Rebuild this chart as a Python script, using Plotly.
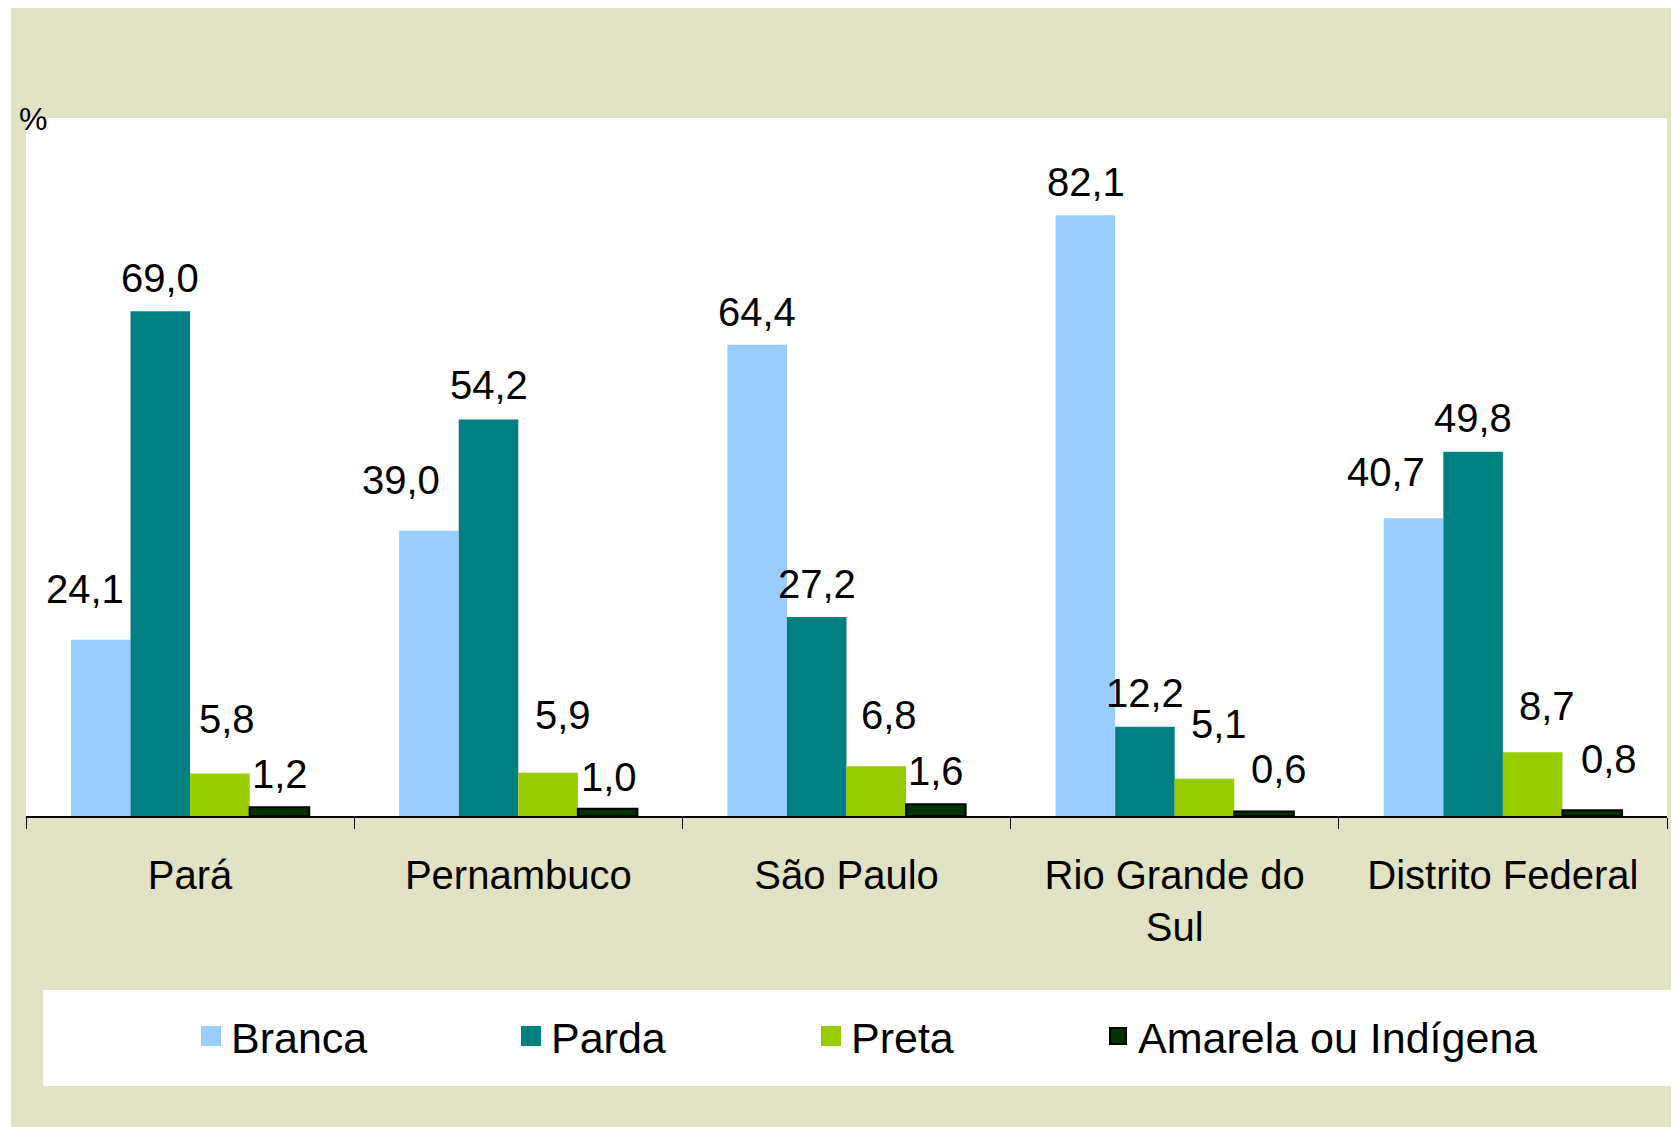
import plotly.graph_objects as go

# ---- data ----
categories = ["Pará", "Pernambuco", "São Paulo", "Rio Grande do<br>Sul", "Distrito Federal"]
series_names = ["Branca", "Parda", "Preta", "Amarela ou Indígena"]
branca = [24.1, 39.0, 64.4, 82.1, 40.7]
parda = [69.0, 54.2, 27.2, 12.2, 49.8]
preta = [5.8, 5.9, 6.8, 5.1, 8.7]
amarela = [1.2, 1.0, 1.6, 0.6, 0.8]

# ---- styling ----
colors = ["#99CCFF", "#008080", "#99CC00", "#003300"]
outline = [None, None, None, "#000000"]
FONT = "Liberation Sans, Arial, sans-serif"
BG = "#E2E2C4"

# label nudges (pixels) for each series / category: horizontal shift, height above bar top
label_dx = [
    [-16, -28, 0, 1, -28],
    [0, 0, 0, 0, 0],
    [7, 15, 13, 15, 14],
    [1, 1, 0, 15, 17],
]
label_dy = [
    [51, 51, 33, 33, 46],
    [33, 34, 33, 34, 34],
    [55, 58, 51, 55, 46],
    [33, 32, 33, 43, 51],
]
# legend entry positions (figure pixels, left edge of each legend)
legend_px = [183, 503, 803, 1090]

W, H = 1679, 1127
L, R, T, B = 18, 20, 110, 319
pw, ph = W - L - R, H - T - B
bargap = 0.274
nser = 4
bw = (1 - bargap) / nser

def px2x(px):
    return (px - L) / pw

def py2y(py):
    return (H - B - py) / ph

series = [branca, parda, preta, amarela]
legend_ids = ["legend", "legend2", "legend3", "legend4"]
fig = go.Figure()
for j, (name, vals) in enumerate(zip(series_names, series)):
    mk = dict(color=colors[j])
    if outline[j]:
        mk["line"] = dict(color=outline[j], width=2)
    else:
        mk["line"] = dict(width=0)
    fig.add_trace(go.Bar(x=categories, y=vals, name=name, marker=mk, showlegend=False))
    # legend proxy with larger square symbol
    fig.add_trace(go.Scatter(
        x=[None], y=[None], mode="markers", name=name, legend=legend_ids[j],
        marker=dict(symbol="square", size=16, color=colors[j],
                    line=dict(color=outline[j] or colors[j], width=2 if outline[j] else 4)),
    ))

annotations = []
for j, vals in enumerate(series):
    for i, v in enumerate(vals):
        annotations.append(dict(
            x=i + (j - (nser - 1) / 2) * bw, y=v, xref="x", yref="y",
            text=f"{v:.1f}".replace(".", ","), showarrow=False,
            xanchor="center", yanchor="middle",
            xshift=label_dx[j][i], yshift=label_dy[j][i],
            font=dict(family=FONT, size=40, color="black"),
        ))
annotations.append(dict(
    x=px2x(25), y=py2y(111), xref="paper", yref="paper", text="%", showarrow=False,
    xanchor="center", yanchor="middle", font=dict(family=FONT, size=32, color="black"),
))

shapes = [
    # thin white strip at left of the figure
    dict(type="rect", xref="paper", yref="paper", x0=px2x(0), x1=px2x(3), y0=py2y(H), y1=py2y(0),
         fillcolor="white", line=dict(width=0), layer="below"),
    # legend box
    dict(type="rect", xref="paper", yref="paper", x0=px2x(35), x1=px2x(1668), y0=py2y(1078), y1=py2y(982),
         fillcolor="white", line=dict(width=0), layer="below"),
]

legend_common = dict(
    orientation="h", xanchor="left", y=py2y(1028), yanchor="middle",
    bgcolor="rgba(0,0,0,0)", font=dict(family=FONT, size=43, color="black"),
    itemsizing="trace",
)

fig.update_layout(
    width=W, height=H,
    margin=dict(l=L, r=R, t=T, b=B, autoexpand=False),
    paper_bgcolor=BG, plot_bgcolor="white",
    barmode="group", bargap=bargap, bargroupgap=0,
    font=dict(family=FONT, color="black"),
    xaxis=dict(
        type="category", showline=True, linecolor="black", linewidth=1.5,
        ticks="outside", tickson="boundaries", ticklen=11, tickcolor="black", tickwidth=1,
        tickfont=dict(family=FONT, size=40, color="black"), showgrid=False,
        ticklabelstandoff=23, range=[-0.5, 4.5],
    ),
    yaxis=dict(range=[0, 95.4], visible=False, showgrid=False, zeroline=False),
    showlegend=True,
    legend=dict(x=px2x(legend_px[0]), **legend_common),
    legend2=dict(x=px2x(legend_px[1]), **legend_common),
    legend3=dict(x=px2x(legend_px[2]), **legend_common),
    legend4=dict(x=px2x(legend_px[3]), **legend_common),
    annotations=annotations,
    shapes=shapes,
)

fig.write_html("out.html")
